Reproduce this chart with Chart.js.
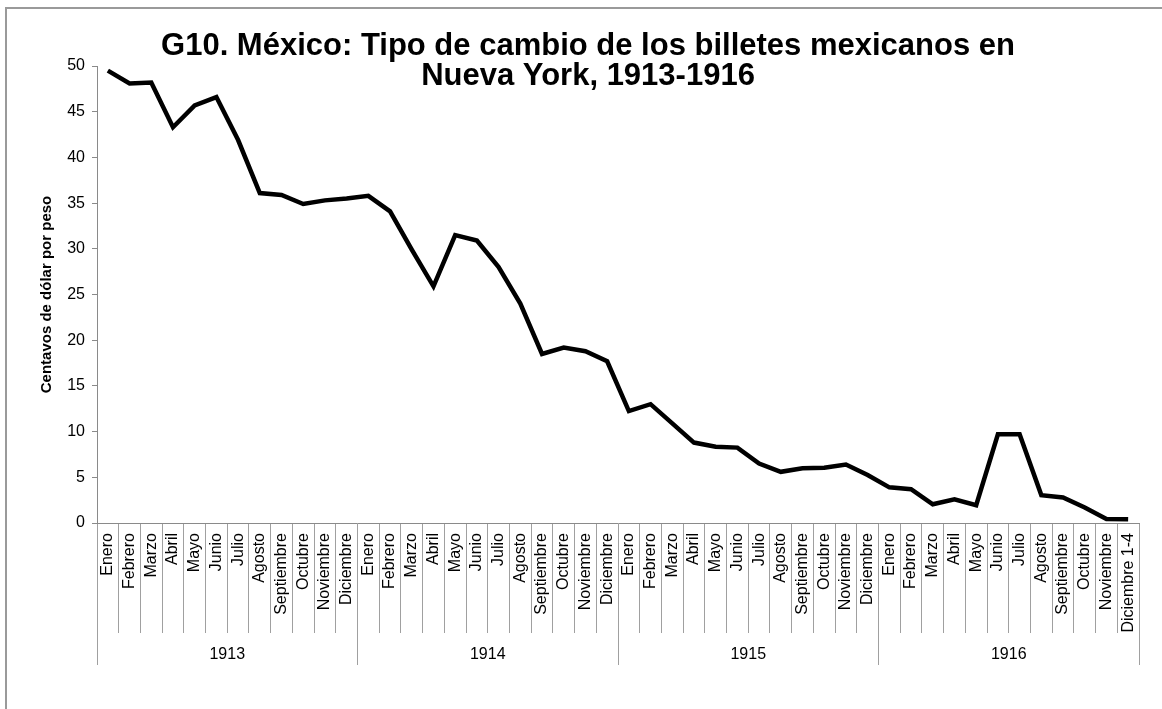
<!DOCTYPE html>
<html>
<head>
<meta charset="utf-8">
<script src="https://cdn.jsdelivr.net/npm/chart.js@4.4.0/dist/chart.umd.min.js"></script>
<style>
  html, body { margin: 0; padding: 0; background: #ffffff; overflow: hidden; }
  #wrap { position: relative; width: 1162px; height: 709px; }
  #frame { position: absolute; left: 5px; top: 7px; width: 1300px; height: 900px;
           border-left: 2px solid #9a9a9a; border-top: 2px solid #9a9a9a; box-sizing: border-box; }
  canvas { position: absolute; left: 0; top: 0; }
</style>
</head>
<body>
<div id="wrap">
  <div id="frame"></div>
  <canvas id="c" width="1162" height="709"></canvas>
</div>
<script>
const months = ["Enero","Febrero","Marzo","Abril","Mayo","Junio","Julio","Agosto","Septiembre","Octubre","Noviembre","Diciembre"];
const monthLabels = [].concat(months, months, months, months.slice(0, 11), ["Diciembre 1-4"]);
const yearLabels = ["1913", "1914", "1915", "1916"];
const values1913 = [49.5, 48.1, 48.2, 43.3, 45.7, 46.6, 41.9, 36.1, 35.9, 34.9, 35.3, 35.5];
const values1914 = [35.8, 34.1, 29.9, 25.9, 31.5, 30.9, 28.0, 24.0, 18.5, 19.2, 18.8, 17.7];
const values1915 = [12.25, 13.0, 10.9, 8.8, 8.35, 8.25, 6.5, 5.6, 6.0, 6.05, 6.4, 5.25];
const values1916 = [3.9, 3.7, 2.05, 2.6, 1.95, 9.7, 9.7, 3.05, 2.8, 1.7, 0.45, 0.4];
const yTicks = { min: 0, max: 50, step: 5 };
const titleLines = ["G10. México: Tipo de cambio de los billetes mexicanos en", "Nueva York, 1913-1916"];
const yTitle = "Centavos de dólar por peso";

const values = [].concat(values1913, values1914, values1915, values1916);
const FONT = "'Liberation Sans', Arial, Helvetica, sans-serif";
const AXIS = '#8a8a8a';
const SEP = '#a0a0a0';

new Chart(document.getElementById('c'), {
  type: 'line',
  data: {
    labels: monthLabels,
    datasets: [{
      data: values,
      borderColor: '#000000',
      borderWidth: 4.5,
      pointRadius: 0,
      pointHoverRadius: 0,
      tension: 0,
      fill: false
    }]
  },
  options: {
    responsive: false,
    animation: false,
    devicePixelRatio: 1,
    layout: { padding: { left: 37, right: 23, top: 0, bottom: 36 } },
    plugins: {
      legend: { display: false },
      tooltip: { enabled: false },
      title: {
        display: true,
        text: titleLines,
        color: '#000000',
        font: { family: FONT, size: 31, weight: 'bold', lineHeight: 0.968 },
        padding: { top: 31, bottom: -25 }
      }
    },
    scales: {
      x: {
        type: 'category',
        position: 'bottom',
        offset: true,
        grid: { display: true, offset: true, drawOnChartArea: false, drawTicks: true, tickLength: 110, color: SEP, lineWidth: 1 },
        border: { display: true, color: AXIS, width: 1 },
        ticks: {
          autoSkip: false, maxRotation: 90, minRotation: 90, padding: -100,
          color: '#000000', font: { family: FONT, size: 16 }
        },
        afterFit: (s) => { s.height = 110; }
      },
      x2: {
        type: 'category',
        position: 'bottom',
        labels: yearLabels,
        offset: true,
        grid: { display: true, offset: true, drawOnChartArea: false, drawTicks: true, tickLength: 32, color: SEP, lineWidth: 1 },
        border: { display: false },
        ticks: { autoSkip: false, maxRotation: 0, minRotation: 0, padding: -20, color: '#000000', font: { family: FONT, size: 16 } },
        afterFit: (s) => { s.height = 40; }
      },
      y: {
        type: 'linear',
        position: 'left',
        min: yTicks.min,
        max: yTicks.max,
        grid: { display: true, drawOnChartArea: false, drawTicks: true, tickLength: 5, color: AXIS, lineWidth: 1 },
        border: { display: true, color: AXIS, width: 1 },
        ticks: { stepSize: yTicks.step, padding: 7, color: '#000000', font: { family: FONT, size: 16 } },
        title: {
          display: true,
          text: yTitle,
          color: '#000000',
          font: { family: FONT, size: 15, weight: 'bold' },
          padding: { top: 1, bottom: 0 }
        },
        afterFit: (s) => { s.width = 60; }
      }
    }
  }
});
</script>
</body>
</html>
